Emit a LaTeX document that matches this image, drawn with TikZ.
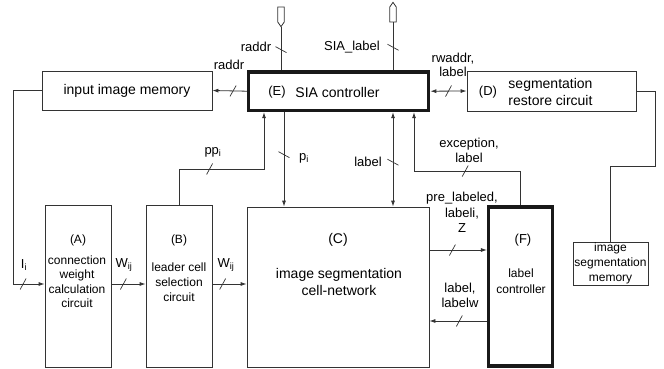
\documentclass[tikz,border=0pt]{standalone}
\usepackage{fontspec}
\setmainfont{Liberation Sans}
\usetikzlibrary{arrows.meta,shapes.symbols}

\tikzset{
  box/.style={draw=black!80, line width=0.8pt, inner sep=0pt},
  thickbox/.style={draw=black!90, line width=3.5pt, inner sep=0pt},
  wire/.style={draw=black!80, line width=0.8pt},
  sig/.style={wire, -{Latex[length=6pt,width=4pt]}},
  bisig/.style={wire, {Latex[length=6pt,width=4pt]}-{Latex[length=6pt,width=4pt]}},
  big/.style={font=\fontsize{14}{17}\selectfont, align=center},
  small/.style={font=\fontsize{12}{14.5}\selectfont, align=center},
  lab/.style={font=\fontsize{13}{15}\selectfont, inner sep=0pt, align=center},
  port/.style={signal, draw=black!80, line width=0.8pt, inner sep=0pt,
    minimum width=6.5pt, minimum height=15pt, signal pointer angle=70},
  slash/.pic={\draw[-, black!80, line width=0.7pt] (-3pt,-5.5pt) -- (3pt,5.5pt);}
}

\begin{document}
\begin{tikzpicture}[x=1pt, y=-1pt]
            \useasboundingbox (0,0) rectangle (664,369);

            \node[box, minimum width=170pt, minimum height=39pt] (imem) at (127,90.5) {};
            \node[thickbox, minimum width=180pt, minimum height=38.5pt] (sia) at (338.6,91.2) {};
            \node[box, minimum width=169pt, minimum height=40pt] (dres) at (551.5,91) {};
            \node[box, minimum width=66pt, minimum height=162pt] (wcalc) at (78,286) {};
            \node[box, minimum width=66pt, minimum height=162pt] (leader) at (179,286) {};
            \node[box, minimum width=182pt, minimum height=160pt] (cnet) at (338,287) {};
            \node[thickbox, minimum width=64pt, minimum height=159pt] (lctrl) at (520.7,286.3) {};
            \node[box, small, minimum width=75pt, minimum height=43pt,
                  font=\fontsize{12}{15}\selectfont] (segmem) at (610.5,263.5)
                  {image\\segmentation\\memory};

            \node[port, signal to=south] (praddr) at (281,14.5) {};
            \node[port, signal to=north] (psia) at (393,14.5) {};

            \node[big] (timem) at (127,91) {input image memory};
            \node[small, font=\fontsize{13}{15}\selectfont] (tE) at (277,92) {(E)};
            \node[big] (tsia) at (337.5,92) {SIA controller};
            \node[small, font=\fontsize{13}{15}\selectfont] (tD) at (488,92) {(D)};
            \node[big] (tdres) at (550.5,91.5) {segmentation\\restore circuit};
            \node[small] (tA) at (78,240) {(A)};
            \node[small] (twcalc) at (77,281.7) {connection\\weight\\calculation\\circuit};
            \node[small] (tB) at (179,240) {(B)};
            \node[small, font=\fontsize{12}{15}\selectfont] (tleader) at (179,282) {leader cell\\selection\\circuit};
            \node[big] (tC) at (338,240) {(C)};
            \node[big] (tcnet) at (339,281.5) {image segmentation\\cell-network};
            \node[small, font=\fontsize{13}{15}\selectfont] (tF) at (523,240) {(F)};
            \node[small, font=\fontsize{12}{16}\selectfont] (tlctrl) at (521,281) {label\\controller};

            \node[lab] (lraddr) at (256,47) {raddr};
            \node[lab] (lsia) at (352,47) {SIA\_label};
            \node[lab] (lraddrm) at (229,65) {raddr};
            \node[lab, font=\fontsize{13}{14}\selectfont] (lrw) at (453,65) {rwaddr,\\label};
            \node[lab] (lpp) at (213,152) {pp\textsubscript{i}};
            \node[lab] (lpi) at (304,158) {p\textsubscript{i}};
            \node[lab] (llab) at (368,162) {label};
            \node[lab] (lexc) at (469,150.5) {exception,\\label};
            \node[lab] (lii) at (24,265) {I\textsubscript{i}};
            \node[lab] (lw1) at (124,265) {W\textsubscript{ij}};
            \node[lab] (lw2) at (226,265) {W\textsubscript{ij}};
            \node[lab, font=\fontsize{13}{15.5}\selectfont] (lpre) at (462,212.5) {pre\_labeled,\\labeli,\\Z};
            \node[lab] (llw) at (460,295.5) {label,\\labelw};

            \coordinate (rw) at (0,284);
            \coordinate (rc) at (0,250);
            \coordinate (rf) at (0,321);
            \coordinate (xpp) at (264,169);
            \coordinate (xpi) at (284,0);
            \coordinate (xlab) at (393,0);
            \coordinate (xexc) at (414,171);
            \coordinate (xin) at (13,90.5);

            \draw[wire] (praddr.south) -- pic[pos=.52, sloped]{slash} (praddr |- sia.north);
            \draw[wire] (psia.south) -- pic[pos=.52, sloped]{slash} (psia |- sia.north);
            \draw[sig] (sia.west) -- pic[pos=.4, sloped]{slash} (imem.east);
            \draw[bisig] (sia.east) -- pic[pos=.5, sloped]{slash} (dres.west);
            \draw[wire] (dres.east) -| (655,166) -| (segmem.north);

            \draw[sig] (imem.west) -- (xin) |- pic[pos=.66, sloped]{slash} (wcalc.west |- rw);
            \draw[sig] (wcalc.east |- rw) -- pic[pos=.35, sloped]{slash} (leader.west |- rw);
            \draw[sig] (leader.east |- rw) -- pic[pos=.3, sloped]{slash} (cnet.west |- rw);

            \draw[sig] (leader.north) |- pic[pos=.68, sloped]{slash} (xpp) -- (xpp |- sia.south);
            \draw[sig] (xpi |- sia.south) -- pic[pos=.45, sloped]{slash} (xpi |- cnet.north);
            \draw[bisig] (xlab |- cnet.north) -- pic[pos=.47, sloped]{slash} (xlab |- sia.south);
            \draw[sig] (lctrl.north) |- pic[pos=.76, sloped]{slash} (xexc) -- (xexc |- sia.south);

            \draw[sig] (cnet.east |- rc) -- pic[pos=.4, sloped]{slash} (lctrl.west |- rc);
            \draw[sig] (lctrl.west |- rf) -- pic[pos=.48, sloped]{slash} (cnet.east |- rf);
\end{tikzpicture}
\end{document}
